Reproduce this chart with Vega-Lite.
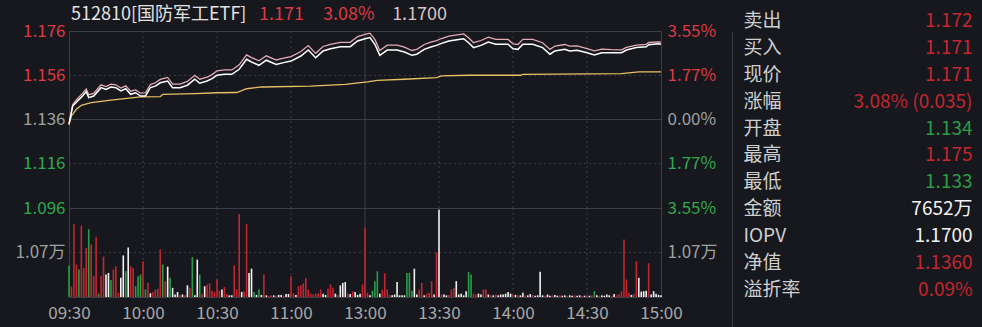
{
  "$schema": "https://vega.github.io/schema/vega-lite/v6.json",
  "background": "#16181d",
  "padding": {"left": 0, "top": 5, "right": 0, "bottom": 0},
  "config": {
    "font": "Noto Sans CJK SC",
    "view": {"stroke": "#3b3e46", "strokeWidth": 1},
    "axis": {"domain": false, "ticks": false, "grid": false, "title": null, "labelFont": "Noto Sans CJK SC", "labelFontSize": 17, "labelColor": "#a0a0a0", "labelFontWeight": "normal"},
    "text": {"font": "Noto Sans CJK SC"}
  },
  "datasets": {
    "vgrid": [
      {"t": 30, "kind": "dash"}, {"t": 60, "kind": "dash"}, {"t": 90, "kind": "dash"},
      {"t": 120, "kind": "solid"}, {"t": 150, "kind": "dash"}, {"t": 180, "kind": "dash"}, {"t": 210, "kind": "dash"}
    ],
    "pgrid": [
      {"pct": 1.77, "kind": "dash"}, {"pct": 0, "kind": "solid"}, {"pct": -1.77, "kind": "dash"}
    ],
    "quote": [
      {"name": "512810[国防军工ETF]", "last": "1.171", "pct": "3.08%", "iopv": "1.1700"}
    ],
    "info": [
      {"i": 0, "label": "卖出", "value": "1.172", "d": "up"},
      {"i": 1, "label": "买入", "value": "1.171", "d": "up"},
      {"i": 2, "label": "现价", "value": "1.171", "d": "up"},
      {"i": 3, "label": "涨幅", "value": "3.08% (0.035)", "d": "up"},
      {"i": 4, "label": "开盘", "value": "1.134", "d": "dn"},
      {"i": 5, "label": "最高", "value": "1.175", "d": "up"},
      {"i": 6, "label": "最低", "value": "1.133", "d": "dn"},
      {"i": 7, "label": "金额", "value": "7652万", "d": "eq"},
      {"i": 8, "label": "IOPV", "value": "1.1700", "d": "eq"},
      {"i": 9, "label": "净值", "value": "1.1360", "d": "up"},
      {"i": 10, "label": "溢折率", "value": "0.09%", "d": "up"}
    ],
    "lines": [
      {"s":"avg","t":0,"v":1.134},{"s":"avg","t":1,"v":1.1376},{"s":"avg","t":3,"v":1.1406},{"s":"avg","t":5,"v":1.1424},{"s":"avg","t":9,"v":1.1436},{"s":"avg","t":17,"v":1.1448},{"s":"avg","t":29,"v":1.1462},{"s":"avg","t":37,"v":1.1463},{"s":"avg","t":38,"v":1.1474},{"s":"avg","t":51,"v":1.1477},{"s":"avg","t":60,"v":1.1481},{"s":"avg","t":68,"v":1.1482},{"s":"avg","t":72,"v":1.1499},{"s":"avg","t":78,"v":1.1507},{"s":"avg","t":98,"v":1.1511},{"s":"avg","t":112,"v":1.1519},{"s":"avg","t":121,"v":1.153},{"s":"avg","t":125,"v":1.1537},{"s":"avg","t":136,"v":1.1542},{"s":"avg","t":149,"v":1.1549},{"s":"avg","t":151,"v":1.1557},{"s":"avg","t":162,"v":1.156},{"s":"avg","t":183,"v":1.156},{"s":"avg","t":184,"v":1.1564},{"s":"avg","t":224,"v":1.1567},{"s":"avg","t":231,"v":1.1575},{"s":"avg","t":240,"v":1.1575},
      {"s":"price","t":0,"v":1.1335},{"s":"price","t":1.5,"v":1.1428},{"s":"price","t":3.5,"v":1.1455},{"s":"price","t":5.5,"v":1.1478},{"s":"price","t":7,"v":1.1498},{"s":"price","t":8,"v":1.1472},{"s":"price","t":10,"v":1.1478},{"s":"price","t":13,"v":1.1517},{"s":"price","t":15,"v":1.1509},{"s":"price","t":17,"v":1.152},{"s":"price","t":19,"v":1.1517},{"s":"price","t":21,"v":1.1502},{"s":"price","t":23,"v":1.1512},{"s":"price","t":25,"v":1.1488},{"s":"price","t":27,"v":1.1494},{"s":"price","t":29,"v":1.1479},{"s":"price","t":31,"v":1.148},{"s":"price","t":33,"v":1.1518},{"s":"price","t":35,"v":1.1526},{"s":"price","t":37,"v":1.1541},{"s":"price","t":40,"v":1.155},{"s":"price","t":42,"v":1.152},{"s":"price","t":45,"v":1.152},{"s":"price","t":48,"v":1.1532},{"s":"price","t":51,"v":1.156},{"s":"price","t":53,"v":1.1542},{"s":"price","t":56,"v":1.1552},{"s":"price","t":58,"v":1.1563},{"s":"price","t":60,"v":1.158},{"s":"price","t":63,"v":1.1584},{"s":"price","t":66,"v":1.1584},{"s":"price","t":69,"v":1.1607},{"s":"price","t":72,"v":1.1652},{"s":"price","t":74,"v":1.164},{"s":"price","t":77,"v":1.1625},{"s":"price","t":80,"v":1.1648},{"s":"price","t":84,"v":1.1629},{"s":"price","t":87,"v":1.1637},{"s":"price","t":90,"v":1.1644},{"s":"price","t":94,"v":1.1667},{"s":"price","t":97,"v":1.1694},{"s":"price","t":100,"v":1.1659},{"s":"price","t":103,"v":1.169},{"s":"price","t":106,"v":1.17},{"s":"price","t":110,"v":1.1709},{"s":"price","t":114,"v":1.1709},{"s":"price","t":117,"v":1.1735},{"s":"price","t":120,"v":1.1745},{"s":"price","t":122,"v":1.175},{"s":"price","t":124,"v":1.1722},{"s":"price","t":126,"v":1.1672},{"s":"price","t":129,"v":1.1696},{"s":"price","t":133,"v":1.1696},{"s":"price","t":136,"v":1.1687},{"s":"price","t":139,"v":1.1672},{"s":"price","t":141,"v":1.1677},{"s":"price","t":144,"v":1.1699},{"s":"price","t":147,"v":1.1711},{"s":"price","t":149,"v":1.1717},{"s":"price","t":151,"v":1.1726},{"s":"price","t":154,"v":1.1737},{"s":"price","t":158,"v":1.1744},{"s":"price","t":160,"v":1.1747},{"s":"price","t":162,"v":1.1729},{"s":"price","t":164,"v":1.1707},{"s":"price","t":167,"v":1.1717},{"s":"price","t":170,"v":1.1732},{"s":"price","t":173,"v":1.1722},{"s":"price","t":178,"v":1.1722},{"s":"price","t":180,"v":1.1702},{"s":"price","t":182,"v":1.1699},{"s":"price","t":184,"v":1.1722},{"s":"price","t":188,"v":1.1722},{"s":"price","t":192,"v":1.1707},{"s":"price","t":195,"v":1.1677},{"s":"price","t":197,"v":1.1692},{"s":"price","t":201,"v":1.1699},{"s":"price","t":203,"v":1.1692},{"s":"price","t":206,"v":1.1693},{"s":"price","t":210,"v":1.168},{"s":"price","t":213,"v":1.167},{"s":"price","t":216,"v":1.1678},{"s":"price","t":220,"v":1.1676},{"s":"price","t":224,"v":1.1675},{"s":"price","t":226,"v":1.1686},{"s":"price","t":230,"v":1.1696},{"s":"price","t":234,"v":1.17},{"s":"price","t":235,"v":1.1708},{"s":"price","t":239,"v":1.1711},{"s":"price","t":240,"v":1.171},
      {"s":"iopv","t":0,"v":1.134},{"s":"iopv","t":1.5,"v":1.1421},{"s":"iopv","t":3.5,"v":1.1444},{"s":"iopv","t":5.5,"v":1.1466},{"s":"iopv","t":7,"v":1.1486},{"s":"iopv","t":8,"v":1.1459},{"s":"iopv","t":10,"v":1.1466},{"s":"iopv","t":13,"v":1.1504},{"s":"iopv","t":15,"v":1.1496},{"s":"iopv","t":17,"v":1.1507},{"s":"iopv","t":19,"v":1.1504},{"s":"iopv","t":21,"v":1.1489},{"s":"iopv","t":23,"v":1.1499},{"s":"iopv","t":25,"v":1.1474},{"s":"iopv","t":27,"v":1.1481},{"s":"iopv","t":29,"v":1.1466},{"s":"iopv","t":31,"v":1.1466},{"s":"iopv","t":33,"v":1.1504},{"s":"iopv","t":35,"v":1.1511},{"s":"iopv","t":37,"v":1.1526},{"s":"iopv","t":40,"v":1.1534},{"s":"iopv","t":42,"v":1.1504},{"s":"iopv","t":45,"v":1.1504},{"s":"iopv","t":48,"v":1.1515},{"s":"iopv","t":51,"v":1.1542},{"s":"iopv","t":53,"v":1.1524},{"s":"iopv","t":56,"v":1.1534},{"s":"iopv","t":58,"v":1.1545},{"s":"iopv","t":60,"v":1.156},{"s":"iopv","t":63,"v":1.1564},{"s":"iopv","t":66,"v":1.1564},{"s":"iopv","t":69,"v":1.1587},{"s":"iopv","t":72,"v":1.1632},{"s":"iopv","t":74,"v":1.162},{"s":"iopv","t":77,"v":1.1605},{"s":"iopv","t":80,"v":1.1628},{"s":"iopv","t":84,"v":1.1609},{"s":"iopv","t":87,"v":1.1617},{"s":"iopv","t":90,"v":1.1624},{"s":"iopv","t":94,"v":1.1647},{"s":"iopv","t":97,"v":1.1674},{"s":"iopv","t":100,"v":1.1639},{"s":"iopv","t":103,"v":1.167},{"s":"iopv","t":106,"v":1.168},{"s":"iopv","t":110,"v":1.1689},{"s":"iopv","t":114,"v":1.1689},{"s":"iopv","t":117,"v":1.1715},{"s":"iopv","t":120,"v":1.1725},{"s":"iopv","t":122,"v":1.173},{"s":"iopv","t":124,"v":1.17},{"s":"iopv","t":126,"v":1.165},{"s":"iopv","t":129,"v":1.1674},{"s":"iopv","t":133,"v":1.1674},{"s":"iopv","t":136,"v":1.1665},{"s":"iopv","t":139,"v":1.165},{"s":"iopv","t":141,"v":1.1655},{"s":"iopv","t":144,"v":1.1677},{"s":"iopv","t":147,"v":1.1689},{"s":"iopv","t":149,"v":1.1695},{"s":"iopv","t":151,"v":1.1704},{"s":"iopv","t":154,"v":1.1715},{"s":"iopv","t":158,"v":1.1722},{"s":"iopv","t":160,"v":1.1725},{"s":"iopv","t":162,"v":1.1707},{"s":"iopv","t":164,"v":1.1685},{"s":"iopv","t":167,"v":1.1695},{"s":"iopv","t":170,"v":1.171},{"s":"iopv","t":173,"v":1.17},{"s":"iopv","t":178,"v":1.17},{"s":"iopv","t":180,"v":1.168},{"s":"iopv","t":182,"v":1.1677},{"s":"iopv","t":184,"v":1.17},{"s":"iopv","t":188,"v":1.17},{"s":"iopv","t":192,"v":1.1685},{"s":"iopv","t":195,"v":1.1655},{"s":"iopv","t":197,"v":1.167},{"s":"iopv","t":201,"v":1.1677},{"s":"iopv","t":203,"v":1.167},{"s":"iopv","t":206,"v":1.1673},{"s":"iopv","t":210,"v":1.1662},{"s":"iopv","t":213,"v":1.1652},{"s":"iopv","t":216,"v":1.1662},{"s":"iopv","t":220,"v":1.1662},{"s":"iopv","t":224,"v":1.1662},{"s":"iopv","t":226,"v":1.1674},{"s":"iopv","t":230,"v":1.1685},{"s":"iopv","t":234,"v":1.1689},{"s":"iopv","t":235,"v":1.1698},{"s":"iopv","t":239,"v":1.1702},{"s":"iopv","t":240,"v":1.17}
    ],
    "vol": [
      {"t":0,"v":7600,"d":"dn"},{"t":1,"v":2500,"d":"up"},{"t":2,"v":17500,"d":"up"},{"t":3,"v":7800,"d":"up"},{"t":4,"v":6600,"d":"dn"},{"t":5,"v":17200,"d":"up"},{"t":6,"v":7000,"d":"up"},{"t":7,"v":11800,"d":"up"},{"t":8,"v":16300,"d":"dn"},{"t":9,"v":12600,"d":"up"},
      {"t":10,"v":5000,"d":"up"},{"t":11,"v":14500,"d":"up"},{"t":12,"v":800,"d":"dn"},{"t":13,"v":5000,"d":"up"},{"t":14,"v":9700,"d":"up"},{"t":15,"v":5400,"d":"eq"},{"t":16,"v":5800,"d":"eq"},{"t":17,"v":4100,"d":"dn"},{"t":18,"v":6600,"d":"up"},{"t":19,"v":7400,"d":"up"},
      {"t":20,"v":1000,"d":"up"},{"t":21,"v":4600,"d":"eq"},{"t":22,"v":10000,"d":"eq"},{"t":23,"v":6200,"d":"dn"},{"t":24,"v":11900,"d":"eq"},{"t":25,"v":7400,"d":"up"},{"t":26,"v":7000,"d":"up"},{"t":27,"v":2600,"d":"dn"},{"t":28,"v":5000,"d":"dn"},{"t":29,"v":5400,"d":"dn"},
      {"t":30,"v":8600,"d":"up"},{"t":31,"v":1800,"d":"dn"},{"t":32,"v":3400,"d":"up"},{"t":33,"v":900,"d":"eq"},{"t":34,"v":1200,"d":"up"},{"t":35,"v":1800,"d":"up"},{"t":36,"v":2000,"d":"up"},{"t":37,"v":11400,"d":"up"},{"t":38,"v":7800,"d":"dn"},{"t":39,"v":3800,"d":"up"},
      {"t":40,"v":7300,"d":"eq"},{"t":41,"v":4600,"d":"dn"},{"t":42,"v":2200,"d":"eq"},{"t":43,"v":600,"d":"eq"},{"t":44,"v":1200,"d":"eq"},{"t":45,"v":500,"d":"up"},{"t":46,"v":600,"d":"eq"},{"t":47,"v":400,"d":"up"},{"t":48,"v":2800,"d":"eq"},{"t":49,"v":2200,"d":"up"},
      {"t":50,"v":9600,"d":"dn"},{"t":51,"v":400,"d":"eq"},{"t":52,"v":9000,"d":"eq"},{"t":53,"v":5400,"d":"dn"},{"t":54,"v":800,"d":"up"},{"t":55,"v":2600,"d":"eq"},{"t":56,"v":3000,"d":"up"},{"t":57,"v":3300,"d":"up"},{"t":58,"v":1500,"d":"up"},{"t":59,"v":1200,"d":"up"},
      {"t":60,"v":4200,"d":"up"},{"t":61,"v":1500,"d":"up"},{"t":62,"v":1800,"d":"eq"},{"t":63,"v":2400,"d":"up"},{"t":64,"v":700,"d":"up"},{"t":65,"v":400,"d":"eq"},{"t":66,"v":400,"d":"eq"},{"t":67,"v":7600,"d":"up"},{"t":68,"v":1800,"d":"up"},{"t":69,"v":19900,"d":"up"},
      {"t":70,"v":1200,"d":"eq"},{"t":71,"v":1400,"d":"up"},{"t":72,"v":17500,"d":"up"},{"t":73,"v":5800,"d":"eq"},{"t":74,"v":6800,"d":"eq"},{"t":75,"v":1200,"d":"dn"},{"t":76,"v":500,"d":"eq"},{"t":77,"v":1800,"d":"dn"},{"t":78,"v":500,"d":"eq"},{"t":79,"v":5400,"d":"up"},
      {"t":80,"v":400,"d":"eq"},{"t":81,"v":300,"d":"up"},{"t":82,"v":400,"d":"up"},{"t":83,"v":400,"d":"eq"},{"t":84,"v":300,"d":"up"},{"t":85,"v":500,"d":"eq"},{"t":86,"v":500,"d":"eq"},{"t":87,"v":300,"d":"up"},{"t":88,"v":700,"d":"eq"},{"t":89,"v":700,"d":"eq"},
      {"t":90,"v":5000,"d":"up"},{"t":91,"v":900,"d":"up"},{"t":92,"v":500,"d":"eq"},{"t":93,"v":2600,"d":"up"},{"t":94,"v":2800,"d":"up"},{"t":95,"v":3300,"d":"up"},{"t":96,"v":4600,"d":"up"},{"t":97,"v":1800,"d":"up"},{"t":98,"v":800,"d":"up"},{"t":99,"v":600,"d":"up"},
      {"t":100,"v":800,"d":"up"},{"t":101,"v":900,"d":"up"},{"t":102,"v":1800,"d":"up"},{"t":103,"v":800,"d":"eq"},{"t":104,"v":500,"d":"eq"},{"t":105,"v":2000,"d":"up"},{"t":106,"v":3000,"d":"up"},{"t":107,"v":2200,"d":"up"},{"t":108,"v":800,"d":"eq"},{"t":109,"v":500,"d":"up"},
      {"t":110,"v":2800,"d":"eq"},{"t":111,"v":3400,"d":"eq"},{"t":112,"v":3600,"d":"eq"},{"t":113,"v":800,"d":"up"},{"t":114,"v":700,"d":"eq"},{"t":115,"v":1400,"d":"up"},{"t":116,"v":1200,"d":"eq"},{"t":117,"v":500,"d":"eq"},{"t":118,"v":800,"d":"eq"},{"t":119,"v":3000,"d":"up"},
      {"t":120,"v":16700,"d":"up"},{"t":121,"v":1000,"d":"up"},{"t":122,"v":400,"d":"eq"},{"t":123,"v":1500,"d":"dn"},{"t":124,"v":3800,"d":"dn"},{"t":125,"v":6200,"d":"dn"},{"t":126,"v":800,"d":"eq"},{"t":127,"v":1800,"d":"up"},{"t":128,"v":5700,"d":"up"},{"t":129,"v":1800,"d":"up"},
      {"t":130,"v":500,"d":"up"},{"t":131,"v":400,"d":"eq"},{"t":132,"v":600,"d":"eq"},{"t":133,"v":3600,"d":"eq"},{"t":134,"v":400,"d":"eq"},{"t":135,"v":400,"d":"eq"},{"t":136,"v":400,"d":"eq"},{"t":137,"v":5800,"d":"dn"},{"t":138,"v":5800,"d":"dn"},{"t":139,"v":1500,"d":"dn"},
      {"t":140,"v":6800,"d":"eq"},{"t":141,"v":600,"d":"eq"},{"t":142,"v":1800,"d":"up"},{"t":143,"v":3400,"d":"up"},{"t":144,"v":400,"d":"eq"},{"t":145,"v":800,"d":"up"},{"t":146,"v":1000,"d":"up"},{"t":147,"v":3800,"d":"up"},{"t":148,"v":600,"d":"eq"},{"t":149,"v":10700,"d":"up"},
      {"t":150,"v":21000,"d":"eq"},{"t":151,"v":600,"d":"up"},{"t":152,"v":600,"d":"eq"},{"t":153,"v":400,"d":"eq"},{"t":154,"v":500,"d":"up"},{"t":155,"v":1800,"d":"up"},{"t":156,"v":2200,"d":"up"},{"t":157,"v":3800,"d":"eq"},{"t":158,"v":600,"d":"eq"},{"t":159,"v":800,"d":"eq"},
      {"t":160,"v":400,"d":"eq"},{"t":161,"v":1400,"d":"eq"},{"t":162,"v":6000,"d":"dn"},{"t":163,"v":5400,"d":"dn"},{"t":164,"v":800,"d":"up"},{"t":165,"v":600,"d":"up"},{"t":166,"v":800,"d":"eq"},{"t":167,"v":600,"d":"eq"},{"t":168,"v":1800,"d":"up"},{"t":169,"v":1800,"d":"up"},
      {"t":170,"v":600,"d":"eq"},{"t":171,"v":400,"d":"up"},{"t":172,"v":400,"d":"eq"},{"t":173,"v":600,"d":"up"},{"t":174,"v":400,"d":"eq"},{"t":175,"v":600,"d":"eq"},{"t":176,"v":600,"d":"eq"},{"t":177,"v":800,"d":"eq"},{"t":178,"v":1200,"d":"eq"},{"t":179,"v":800,"d":"eq"},
      {"t":180,"v":600,"d":"up"},{"t":181,"v":500,"d":"eq"},{"t":182,"v":400,"d":"up"},{"t":183,"v":400,"d":"eq"},{"t":184,"v":1000,"d":"eq"},{"t":185,"v":400,"d":"up"},{"t":186,"v":400,"d":"eq"},{"t":187,"v":700,"d":"eq"},{"t":188,"v":500,"d":"up"},{"t":189,"v":300,"d":"eq"},
      {"t":190,"v":400,"d":"eq"},{"t":191,"v":6100,"d":"eq"},{"t":192,"v":400,"d":"eq"},{"t":193,"v":300,"d":"up"},{"t":194,"v":600,"d":"eq"},{"t":195,"v":300,"d":"eq"},{"t":196,"v":400,"d":"up"},{"t":197,"v":500,"d":"eq"},{"t":198,"v":300,"d":"eq"},{"t":199,"v":400,"d":"up"},
      {"t":200,"v":300,"d":"eq"},{"t":201,"v":400,"d":"eq"},{"t":202,"v":300,"d":"up"},{"t":203,"v":400,"d":"eq"},{"t":204,"v":300,"d":"eq"},{"t":205,"v":400,"d":"up"},{"t":206,"v":300,"d":"eq"},{"t":207,"v":400,"d":"eq"},{"t":208,"v":300,"d":"up"},{"t":209,"v":300,"d":"eq"},
      {"t":210,"v":400,"d":"up"},{"t":211,"v":300,"d":"eq"},{"t":212,"v":400,"d":"up"},{"t":213,"v":1400,"d":"dn"},{"t":214,"v":400,"d":"eq"},{"t":215,"v":300,"d":"up"},{"t":216,"v":400,"d":"eq"},{"t":217,"v":300,"d":"eq"},{"t":218,"v":600,"d":"eq"},{"t":219,"v":400,"d":"eq"},
      {"t":220,"v":300,"d":"up"},{"t":221,"v":700,"d":"eq"},{"t":222,"v":400,"d":"up"},{"t":223,"v":700,"d":"up"},{"t":224,"v":1400,"d":"up"},{"t":225,"v":13800,"d":"up"},{"t":226,"v":4200,"d":"up"},{"t":227,"v":1000,"d":"up"},{"t":228,"v":500,"d":"eq"},{"t":229,"v":700,"d":"up"},
      {"t":230,"v":8600,"d":"up"},{"t":231,"v":4600,"d":"eq"},{"t":232,"v":1300,"d":"eq"},{"t":233,"v":1400,"d":"eq"},{"t":234,"v":1500,"d":"eq"},{"t":235,"v":8100,"d":"up"},{"t":236,"v":600,"d":"eq"},{"t":237,"v":1400,"d":"eq"},{"t":238,"v":800,"d":"eq"},{"t":239,"v":500,"d":"eq"},{"t":240,"v":400,"d":"eq"}
    ]
  },
  "hconcat": [
    {
      "vconcat": [
        {
          "width": 592,
          "height": 177,
          "layer": [
            {
              "data": {"name": "vgrid"},
              "mark": {"type": "rule", "color": "#3b3e46", "strokeWidth": 1},
              "encoding": {
                "x": {"field": "t", "type": "quantitative", "scale": {"domain": [0, 240], "nice": false, "zero": false}, "axis": null},
                "strokeDash": {"field": "kind", "type": "nominal", "scale": {"domain": ["dash", "solid"], "range": [[2, 3], [1, 0]]}, "legend": null}
              }
            },
            {
              "data": {"name": "pgrid"},
              "mark": {"type": "rule", "color": "#3b3e46", "strokeWidth": 1},
              "encoding": {
                "y": {
                  "field": "pct", "type": "quantitative",
                  "scale": {"domain": [-3.55, 3.55], "nice": false, "zero": false},
                  "axis": {
                    "orient": "right",
                    "values": [-3.55, -1.77, 0, 1.77, 3.55],
                    "labelExpr": "format(abs(datum.value), '.2f') + '%'",
                    "labelPadding": 6,
                    "minExtent": 60,
                    "maxExtent": 60,
                    "labelColor": {"condition": [{"test": "datum.value > 0.01", "value": "#de3a43"}, {"test": "datum.value < -0.01", "value": "#2fa84f"}], "value": "#a0a0a0"}
                  }
                },
                "strokeDash": {"field": "kind", "type": "nominal", "scale": {"domain": ["dash", "solid"], "range": [[2, 3], [1, 0]]}, "legend": null}
              }
            },
            {
              "layer": [
                {
                  "data": {"name": "lines"},
                  "transform": [{"filter": "datum.s === 'avg'"}],
                  "mark": {"type": "line", "color": "#e9c163", "strokeWidth": 1.3},
                  "encoding": {
                    "x": {"field": "t", "type": "quantitative", "axis": null},
                    "y": {
                      "field": "v", "type": "quantitative",
                      "scale": {"domain": [1.096, 1.176], "nice": false, "zero": false},
                      "axis": {
                        "orient": "left",
                        "values": [1.096, 1.116, 1.136, 1.156, 1.176],
                        "format": ".3f",
                        "labelPadding": 4,
                        "minExtent": 68,
                        "maxExtent": 68,
                        "labelColor": {"condition": [{"test": "datum.value > 1.137", "value": "#de3a43"}, {"test": "datum.value < 1.135", "value": "#2fa84f"}], "value": "#a0a0a0"}
                      }
                    }
                  }
                },
                {
                  "data": {"name": "lines"},
                  "transform": [{"filter": "datum.s === 'price'"}],
                  "mark": {"type": "line", "color": "#e5aab4", "strokeWidth": 1.3},
                  "encoding": {
                    "x": {"field": "t", "type": "quantitative", "axis": null},
                    "y": {"field": "v", "type": "quantitative"}
                  }
                },
                {
                  "data": {"name": "lines"},
                  "transform": [{"filter": "datum.s === 'iopv'"}],
                  "mark": {"type": "line", "color": "#ffffff", "strokeWidth": 1.5},
                  "encoding": {
                    "x": {"field": "t", "type": "quantitative", "axis": null},
                    "y": {"field": "v", "type": "quantitative"}
                  }
                },
                {
                  "data": {"name": "quote"},
                  "mark": {"type": "text", "align": "left", "baseline": "middle", "fontSize": 18, "color": "#e2e2e2"},
                  "encoding": {
                    "x": {"datum": 0.8, "type": "quantitative", "axis": null},
                    "y": {"datum": 1.1832, "type": "quantitative"},
                    "text": {"field": "name"}
                  }
                },
                {
                  "data": {"name": "quote"},
                  "mark": {"type": "text", "align": "left", "baseline": "middle", "fontSize": 18, "color": "#de3a43"},
                  "encoding": {
                    "x": {"datum": 77, "type": "quantitative", "axis": null},
                    "y": {"datum": 1.1832, "type": "quantitative"},
                    "text": {"field": "last"}
                  }
                },
                {
                  "data": {"name": "quote"},
                  "mark": {"type": "text", "align": "left", "baseline": "middle", "fontSize": 18, "color": "#de3a43"},
                  "encoding": {
                    "x": {"datum": 103, "type": "quantitative", "axis": null},
                    "y": {"datum": 1.1832, "type": "quantitative"},
                    "text": {"field": "pct"}
                  }
                },
                {
                  "data": {"name": "quote"},
                  "mark": {"type": "text", "align": "left", "baseline": "middle", "fontSize": 18, "color": "#dcc3c7"},
                  "encoding": {
                    "x": {"datum": 131, "type": "quantitative", "axis": null},
                    "y": {"datum": 1.1832, "type": "quantitative"},
                    "text": {"field": "iopv"}
                  }
                }
              ]
            }
          ],
          "resolve": {"scale": {"y": "independent"}, "axis": {"y": "independent"}}
        },
        {
          "width": 592,
          "height": 89,
          "layer": [
            {
              "data": {"name": "vgrid"},
              "mark": {"type": "rule", "color": "#3b3e46", "strokeWidth": 1},
              "encoding": {
                "x": {
                  "field": "t", "type": "quantitative",
                  "scale": {"domain": [0, 240], "nice": false, "zero": false},
                  "axis": {"values": [0, 30, 60, 90, 120, 150, 180, 210, 240], "labelExpr": "['09:30','10:00','10:30','11:00','13:00','13:30','14:00','14:30','15:00'][round(datum.value / 30)]", "labelFlush": false, "labelOverlap": false, "labelPadding": 8, "labelColor": "#a8a8a8"}
                },
                "strokeDash": {"field": "kind", "type": "nominal", "scale": {"domain": ["dash", "solid"], "range": [[2, 3], [1, 0]]}, "legend": null}
              }
            },
            {
              "data": {"values": [{"v": 10700}]},
              "mark": {"type": "rule", "color": "#3b3e46", "strokeWidth": 1, "strokeDash": [2, 3]},
              "encoding": {
                "y": {
                  "field": "v", "type": "quantitative",
                  "scale": {"domain": [0, 21400], "nice": false},
                  "axis": {"orient": "right", "values": [10700], "labelExpr": "format(datum.value / 10000, '.2f') + '万'", "labelPadding": 6, "minExtent": 60, "maxExtent": 60}
                }
              }
            },
            {
              "data": {"name": "vol"},
              "mark": {"type": "rule", "strokeWidth": 1.6},
              "encoding": {
                "x": {"field": "t", "type": "quantitative"},
                "y": {
                  "field": "v", "type": "quantitative",
                  "scale": {"domain": [0, 21400], "nice": false},
                  "axis": {"orient": "left", "values": [10700], "labelExpr": "format(datum.value / 10000, '.2f') + '万'", "labelPadding": 4, "minExtent": 68, "maxExtent": 68}
                },
                "y2": {"datum": 0},
                "color": {"field": "d", "type": "nominal", "scale": {"domain": ["up", "dn", "eq"], "range": ["#c3262f", "#2a9e46", "#f2f2f2"]}, "legend": null}
              }
            }
          ],
          "resolve": {"scale": {"y": "independent"}, "axis": {"y": "independent"}}
        }
      ],
      "spacing": 0,
      "bounds": "flush"
    },
    {
      "width": 252,
      "height": 297,
      "data": {"name": "info"},
      "view": {"stroke": null},
      "encoding": {
        "y": {
          "field": "i", "type": "quantitative",
          "scale": {"domain": [0.3718, 11.413], "reverse": true, "nice": false, "zero": false},
          "axis": {"domain": true, "domainColor": "#3b3e46", "labels": false, "ticks": false, "title": null, "grid": false}
        }
      },
      "layer": [
        {
          "mark": {"type": "text", "align": "left", "baseline": "middle", "fontSize": 19, "color": "#cfcfcf"},
          "encoding": {
            "x": {"datum": "label", "type": "nominal", "scale": {"type": "point", "domain": ["label", "value"], "padding": 0.05}, "axis": null},
            "text": {"field": "label"}
          }
        },
        {
          "mark": {"type": "text", "align": "right", "baseline": "middle", "fontSize": 19},
          "encoding": {
            "x": {"datum": "value", "type": "nominal"},
            "text": {"field": "value"},
            "color": {"field": "d", "type": "nominal", "scale": {"domain": ["up", "dn", "eq"], "range": ["#de3a43", "#2fa84f", "#ececec"]}, "legend": null}
          }
        }
      ]
    }
  ],
  "spacing": 10
}
